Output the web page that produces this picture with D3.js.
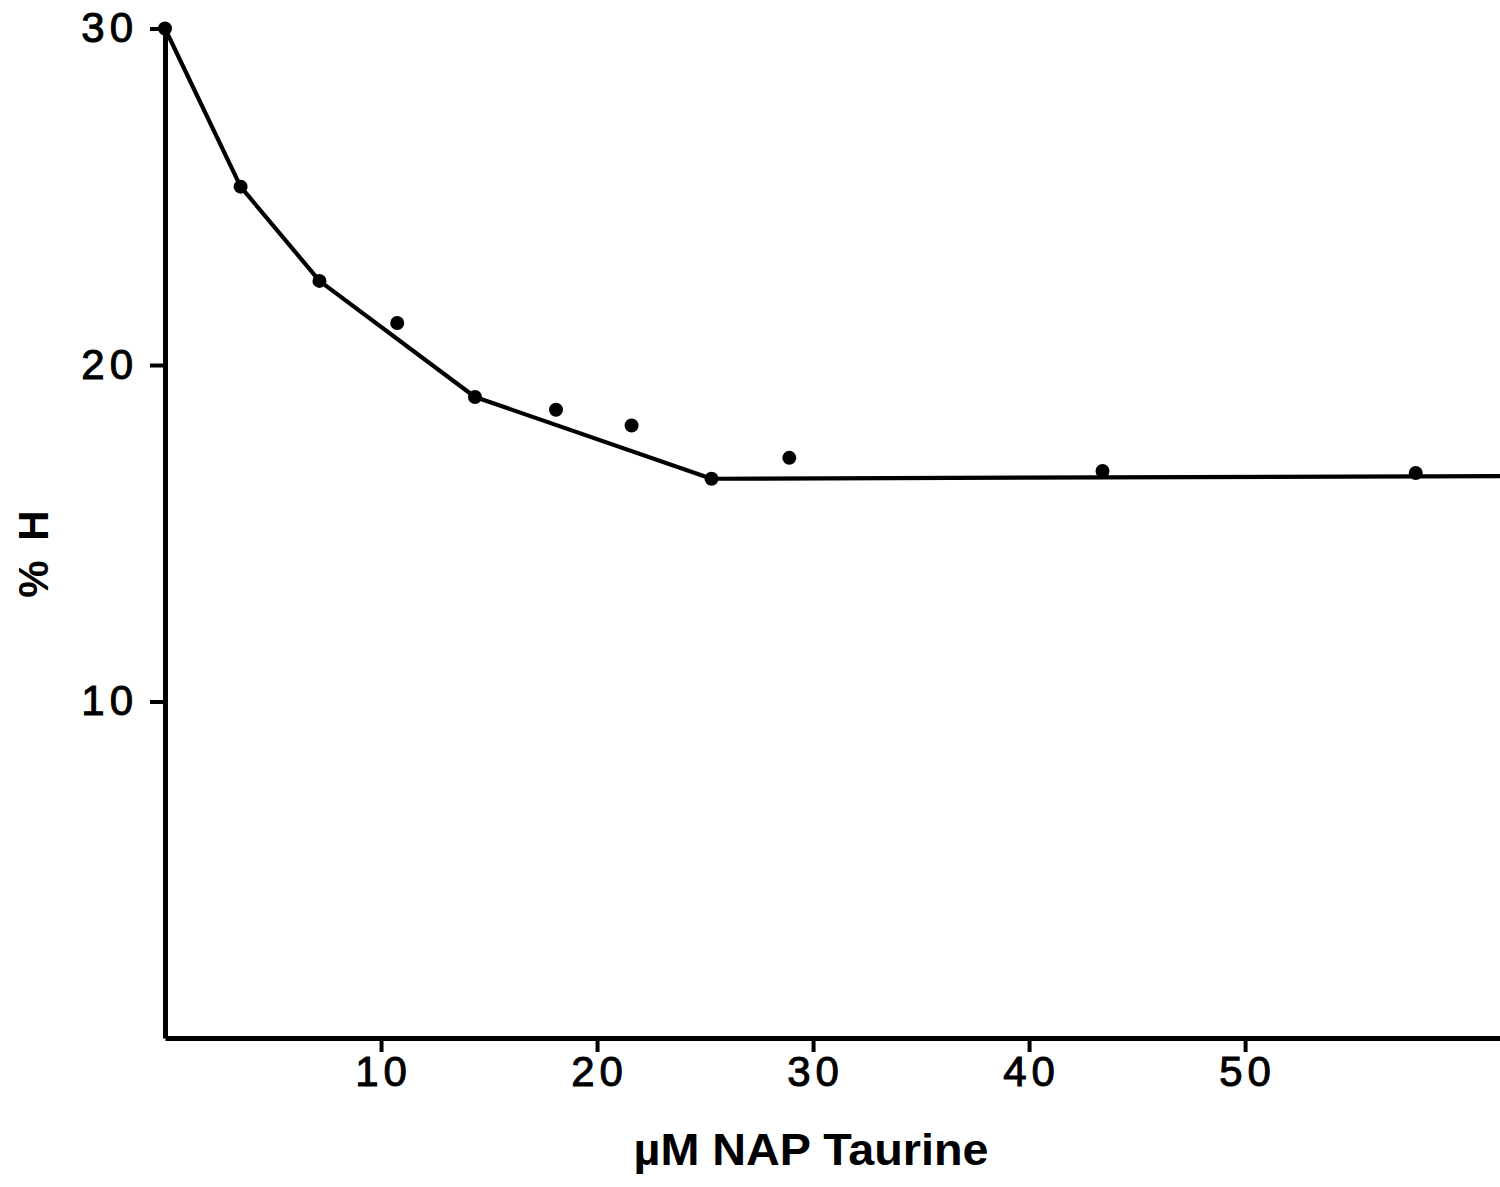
<!DOCTYPE html>
<html>
<head>
<meta charset="utf-8">
<script src="https://cdn.jsdelivr.net/npm/d3@7"></script>
<style>
  html, body { margin: 0; padding: 0; background: #fff; }
  svg { display: block; }
  text { font-family: "Liberation Sans", Arial, sans-serif; fill: #000; }
</style>
</head>
<body>
<svg id="chart" width="1500" height="1187"></svg>
<script>
// Measured points (µM NAP taurine, % H)
const pointX = [0, 3.5, 7.15, 10.75, 14.35, 18.1, 21.6, 25.3, 28.9, 43.4, 57.9];
const pointY = [30.0, 25.3, 22.5, 21.25, 19.05, 18.67, 18.2, 16.62, 17.24, 16.85, 16.79];

// Fitted line vertices
const lineX = [0, 3.5, 7.15, 14.35, 25.3, 61.8];
const lineY = [30.0, 25.3, 22.5, 19.05, 16.62, 16.7];

const xTicks = [10, 20, 30, 40, 50];
const yTicks = [10, 20, 30];
const xTitle = "\u00b5M NAP Taurine";
const yTitle = "% H";

const svg = d3.select("#chart");
const x = d3.scaleLinear().domain([0, 61.8]).range([165, 1500]);
const y = d3.scaleLinear().domain([0, 30]).range([1038, 28.5]);

// Axes
const gx = svg.append("g")
  .attr("transform", `translate(0,${y(0)})`)
  .call(d3.axisBottom(x).tickValues(xTicks).tickSize(14).tickSizeOuter(0).tickPadding(4).tickFormat(d3.format("d")));
const gy = svg.append("g")
  .attr("transform", `translate(${x(0)},0)`)
  .call(d3.axisLeft(y).tickValues(yTicks).tickSize(15).tickSizeOuter(0).tickPadding(12).tickFormat(d3.format("d")));

[gx, gy].forEach(g => {
  g.select(".domain").attr("stroke", "#000").attr("stroke-width", 5);
  g.selectAll(".tick line").attr("stroke", "#000").attr("stroke-width", 4);
  g.selectAll(".tick text")
    .style("font-family", "'Liberation Sans', Arial, sans-serif")
    .style("font-size", "42px")
    .attr("fill", "#000")
    .attr("stroke", "#000")
    .attr("stroke-width", 1)
    .attr("letter-spacing", "5px");
});
gx.selectAll(".tick text").attr("dy", "0.72em").attr("dx", "2px");

// Fitted line
const line = d3.line().x(d => x(d[0])).y(d => y(d[1]));
svg.append("path")
  .datum(lineX.map((v, i) => [v, lineY[i]]))
  .attr("d", line)
  .attr("fill", "none")
  .attr("stroke", "#000")
  .attr("stroke-width", 4.2)
  .attr("stroke-linejoin", "round");

// Points
svg.append("g").selectAll("circle")
  .data(pointX.map((v, i) => [v, pointY[i]]))
  .join("circle")
  .attr("cx", d => x(d[0]))
  .attr("cy", d => y(d[1]))
  .attr("r", 7)
  .attr("fill", "#000");

// Axis titles
svg.append("text")
  .attr("x", 811)
  .attr("y", 1165)
  .attr("text-anchor", "middle")
  .attr("font-size", 44)
  .attr("font-weight", "bold")
  .attr("textLength", 355)
  .attr("lengthAdjust", "spacingAndGlyphs")
  .text(xTitle);

svg.append("text")
  .attr("transform", "translate(48,552) rotate(-90)")
  .attr("text-anchor", "middle")
  .attr("font-size", 42)
  .attr("font-weight", "bold")
  .attr("letter-spacing", "4px")
  .text(yTitle);
</script>
</body>
</html>
